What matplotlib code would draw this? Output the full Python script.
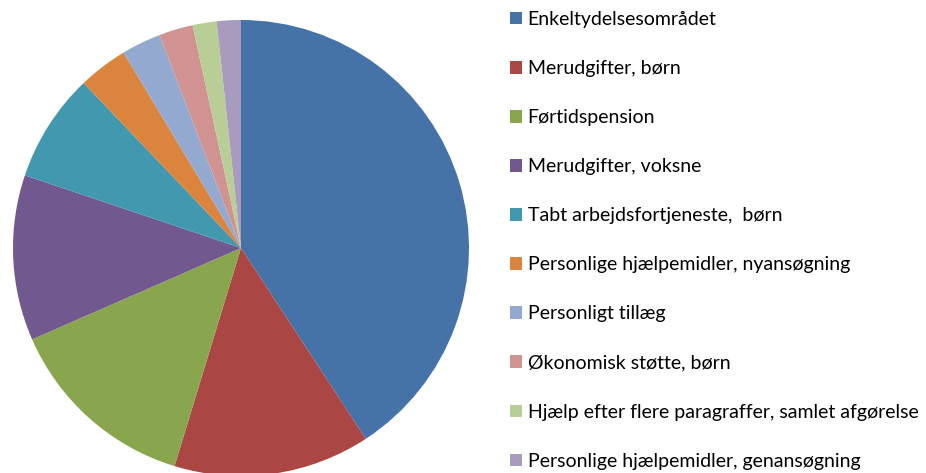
import matplotlib.pyplot as plt
from matplotlib.patches import Patch

# ── Data ──────────────────────────────────────────────────────────────────────
labels = [
    'Enkeltydelsesområdet',
    'Merudgifter, børn',
    'Førtidspension',
    'Merudgifter, voksne',
    'Tabt arbejdsfortjeneste,  børn',
    'Personlige hjælpemidler, nyansøgning',
    'Personligt tillæg',
    'Økonomisk støtte, børn',
    'Hjælp efter flere paragraffer, samlet afgørelse',
    'Personlige hjælpemidler, genansøgning',
]
shares = [40.7, 13.9, 13.7, 11.7, 7.7, 3.5, 2.8, 2.4, 1.7, 1.7]

colors = ['#4572A7', '#AA4643', '#89A54E', '#71588F', '#4198AF',
          '#DB843D', '#93A9CF', '#D19392', '#B9CD96', '#A99BBD']

# ── Plot ──────────────────────────────────────────────────────────────────────
plt.rcParams['font.family'] = ['Lato', 'DejaVu Sans']

W, H = 926, 473
fig = plt.figure(figsize=(W / 100, H / 100), dpi=100)

# pie centre ~ (241, 248) px, radius ~228 px
cx, cy, r = 241, 248, 228
ax = fig.add_axes([(cx - r) / W, (H - cy - r) / H, 2 * r / W, 2 * r / H])
ax.pie(shares, colors=colors, startangle=90, counterclock=False,
       wedgeprops=dict(linewidth=0))
ax.set_xlim(-1, 1)
ax.set_ylim(-1, 1)
ax.set_aspect('equal')
ax.axis('off')

handles = [Patch(facecolor=c, edgecolor='none', label=l)
           for l, c in zip(labels, colors)]
fig.legend(handles=handles, loc='upper left',
           bbox_to_anchor=(510 / W, 1 - 11 / H),
           frameon=False, fontsize=14, handlelength=0.62, handleheight=0.62,
           handletextpad=0.28, labelspacing=1.65, borderaxespad=0,
           borderpad=0)

plt.savefig('out.png', dpi=100)
plt.close()
